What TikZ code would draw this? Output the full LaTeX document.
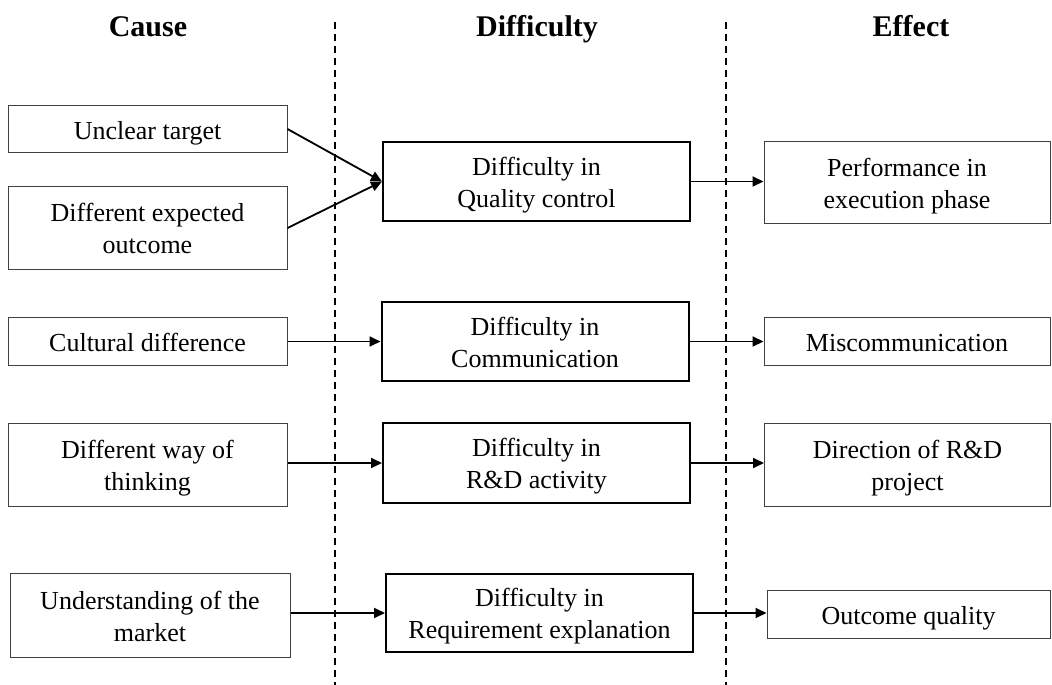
\documentclass[tikz,border=0pt]{standalone}
\usepackage{fontspec}
\setmainfont{Liberation Serif}
\usetikzlibrary{arrows.meta}
\begin{document}
\begin{tikzpicture}[x=1pt,y=-1pt,
  box/.style={draw=black!75, line width=1pt, inner sep=0pt, align=center,
    font=\fontsize{26}{32}\selectfont},
  oneline/.style={text height=20pt, text depth=0pt},
  twoline/.style={text height=52pt, text depth=1pt},
  causebox/.style={box, minimum width=279pt},
  diffbox/.style={box, draw=black, line width=2pt, minimum width=307pt},
  effbox/.style={box, minimum width=286pt},
  head/.style={anchor=base, font=\fontsize{30}{36}\selectfont\bfseries},
  link/.style={line width=1.8pt, -{Triangle[length=11pt,width=10pt]}},
  divider/.style={line width=1.3pt, dash pattern=on 7pt off 5pt}]
\useasboundingbox (0,0) rectangle (1052,685);

% column headings
\node[head] (hcause) at (148,37) {Cause};
\node[head] (hdiff)  at (537,37) {Difficulty};
\node[head] (heff)   at (911,37) {Effect};

% column dividers
\draw[divider] (335,22) -- (335,685);
\draw[divider] (726,22) -- (726,685);

% causes
\node[causebox, oneline, minimum height=47pt] (c1) at (147.5,129) {Unclear target};
\node[causebox, twoline, minimum height=83pt] (c2) at (147.5,228) {Different expected\\outcome};
\node[causebox, oneline, minimum height=48pt] (c3) at (147.5,341.5) {Cultural difference};
\node[causebox, twoline, minimum height=83pt] (c4) at (147.5,465) {Different way of\\thinking};
\node[causebox, twoline, minimum width=280pt, minimum height=84pt] (c5) at (150,615.5) {Understanding of the\\market};

% difficulties
\node[diffbox, twoline, minimum height=79pt] (d1) at (536.5,181.5) {Difficulty in\\Quality control};
\node[diffbox, twoline, minimum height=79pt] (d2) at (535,341.5) {Difficulty in\\Communication};
\node[diffbox, twoline, minimum height=80pt] (d3) at (536.5,463) {Difficulty in\\R\&D activity};
\node[diffbox, twoline, minimum height=78pt] (d4) at (539.5,613) {Difficulty in\\Requirement explanation};

% effects
\node[effbox, twoline, minimum height=82pt] (e1) at (907,182.5) {Performance in\\execution phase};
\node[effbox, oneline, minimum height=48pt] (e2) at (907,341.5) {Miscommunication};
\node[effbox, twoline, minimum height=83pt] (e3) at (907.5,465) {Direction of R\&D\\project};
\node[effbox, oneline, minimum width=283pt, minimum height=48pt] (e4) at (908.5,614.5) {Outcome quality};

% cause -> difficulty
\draw[link] (c1.east) -- (d1.west);
\draw[link] (c2.east) -- (d1.west);
\draw[link] (c3.east |- d2.west) -- (d2.west);
\draw[link] (c4.east |- d3.west) -- (d3.west);
\draw[link] (c5.east |- d4.west) -- (d4.west);

% difficulty -> effect
\draw[link] (d1.east) -- (d1.east -| e1.west);
\draw[link] (d2.east) -- (d2.east -| e2.west);
\draw[link] (d3.east) -- (d3.east -| e3.west);
\draw[link] (d4.east) -- (d4.east -| e4.west);
\end{tikzpicture}
\end{document}
